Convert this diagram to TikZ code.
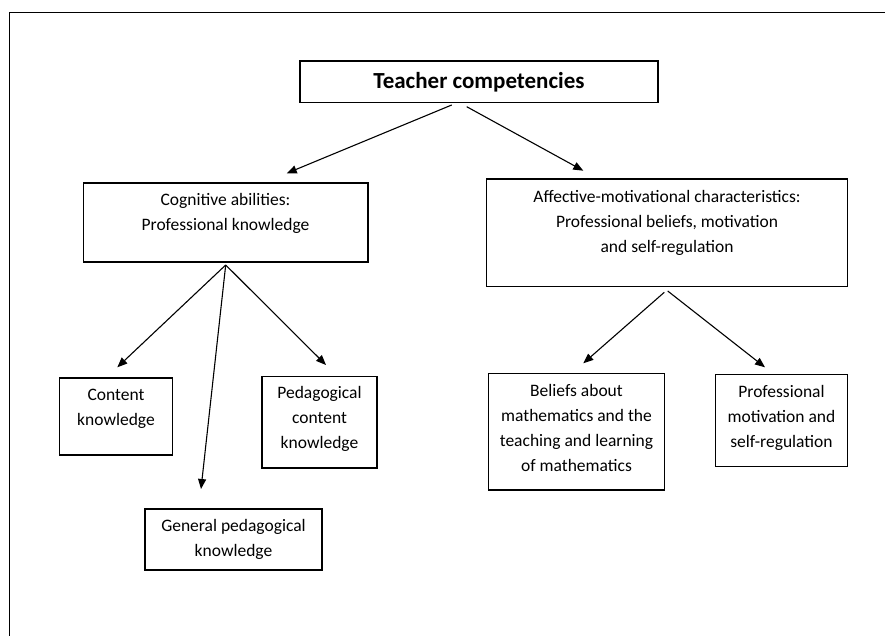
\documentclass[tikz,border=0pt]{standalone}
\usepackage{fontspec}
\setmainfont{Carlito}
\usetikzlibrary{arrows.meta}
\begin{document}
\begin{tikzpicture}[x=1pt,y=-1pt,
  box/.style={draw=black, line width=1.3pt, inner sep=0pt, rectangle},
  lbl/.style={align=center, anchor=base, inner sep=0pt, font=\fontsize{17.5}{25}\selectfont},
  arr/.style={-{Triangle[length=10pt,width=8pt]}, line width=1.1pt},
]
\useasboundingbox (0,0) rectangle (885,636);

% outer frame (left and top edges)
\coordinate (fbl) at (9.7,636);
\coordinate (ftl) at (9.7,12.3);
\coordinate (ftr) at (885,12.3);
\draw[line width=1.4pt] (fbl) -- (ftl) -- (ftr);

% boxes
\node[box, minimum width=358pt,   minimum height=41.7pt]  (top) at (479,81.85) {};
\node[box, minimum width=284.7pt, minimum height=79pt]    (cog) at (225.65,222.5) {};
\node[box, minimum width=361pt,   minimum height=107.7pt] (aff) at (667.2,232.85) {};
\node[box, minimum width=113.4pt, minimum height=77pt]    (con) at (116,416.5) {};
\node[box, minimum width=115pt,   minimum height=91.5pt]  (ped) at (319.5,422.25) {};
\node[box, minimum width=177pt,   minimum height=61pt]    (gen) at (233.5,539.5) {};
\node[box, minimum width=176.4pt, minimum height=116.7pt] (bel) at (576.5,431.65) {};
\node[box, minimum width=131.6pt, minimum height=92.4pt]  (pro) at (781.5,420.5) {};

% texts (anchored at the baseline of the last line)
\node[lbl, font=\fontsize{23}{27}\selectfont\bfseries] (topT) at (479,89) {Teacher competencies};
\node[lbl] (cogT) at (225.5,231) {Cognitive abilities:\\Professional knowledge};
\node[lbl] (affT) at (667,252) {Affective-motivational characteristics:\\Professional beliefs, motivation\\and self-regulation};
\node[lbl] (conT) at (116,425) {Content\\knowledge};
\node[lbl] (pedT) at (319.5,448) {Pedagogical\\content\\knowledge};
\node[lbl] (genT) at (233.5,556) {General pedagogical\\knowledge};
\node[lbl] (belT) at (576.5,471.7) {Beliefs about\\mathematics and the\\teaching and learning\\of mathematics};
\node[lbl] (proT) at (781.5,447) {Professional\\motivation and\\self-regulation};

% connector end points
\coordinate (t1) at (451.7,105);
\coordinate (t2) at (466.7,106.7);
\coordinate (cogIn) at (286.7,173.3);
\coordinate (affIn) at (583.3,170.7);
\coordinate (c0) at (225.7,265);
\coordinate (conIn) at (117.3,367.3);
\coordinate (pedIn) at (326,365);
\coordinate (genIn) at (201,489);
\coordinate (a1) at (664.3,292.3);
\coordinate (a2) at (667.7,291);
\coordinate (belIn) at (583.3,363.3);
\coordinate (proIn) at (765,367.3);

% connectors
\draw[arr] (t1) -- (cogIn);
\draw[arr] (t2) -- (affIn);
\draw[arr] (c0) -- (conIn);
\draw[arr] (c0) -- (pedIn);
\draw[arr] (c0) -- (genIn);
\draw[arr] (a1) -- (belIn);
\draw[arr] (a2) -- (proIn);
\end{tikzpicture}
\end{document}
